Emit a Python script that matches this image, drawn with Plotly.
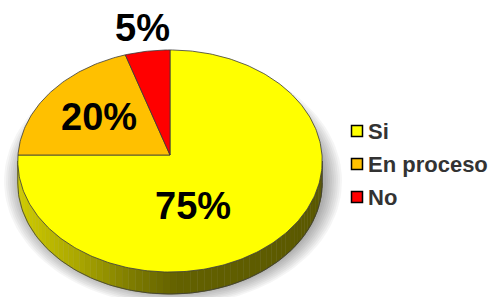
import numpy as np
import plotly.graph_objects as go

# ---- data ----
labels = ["Si", "En proceso", "No"]
values = [75, 20, 5]
pct_text = ["75%", "20%", "5%"]

# ---- style ----
colors = ["#FFFF00", "#FFC000", "#FF0000"]
edge = "#3a3a3a"
W, H = 495, 297
cx, cy = 170, 155          # pie apex (px)
rx, ry = 152, 110.7        # ellipse radii
persp = 0.054              # perspective factor
depth = 22                 # thickness of pie side
label_r = [0.47, 0.59, 1.24]      # radial factor for labels
label_shift = [26.9, 0.0, 0.0]    # angle tweak (deg) for labels

fig = go.Figure()

def pt(phi_deg, r=1.0, dy=0.0):
    p = np.radians(phi_deg)
    s = 1.0 / (1.0 + persp * r * np.cos(p))
    return cx + rx * r * np.sin(p) * s, cy - ry * r * np.cos(p) * s + dy

# soft shadow
th = np.linspace(0, 2 * np.pi, 140)
for k in range(9):
    fig.add_trace(go.Scatter(
        x=cx + 3 + (rx + 1 + 2 * k) * np.cos(th), y=cy + 26 + (ry + 1 + 1.6 * k) * np.sin(th),
        fill="toself", mode="lines", line=dict(width=0),
        fillcolor="rgba(0,0,0,0.04)", hoverinfo="skip", showlegend=False))

# pie side (front half), horizontal gradient
def side_color(t):
    stops = [(0.0, (208, 204, 0)), (0.2, (170, 167, 0)), (0.38, (125, 123, 0)),
             (0.52, (100, 98, 0)), (1.0, (90, 88, 0))]
    for (t0, c0), (t1, c1) in zip(stops[:-1], stops[1:]):
        if t <= t1:
            f = (t - t0) / (t1 - t0)
            c = [int(c0[i] + f * (c1[i] - c0[i])) for i in range(3)]
            return "rgb(%d,%d,%d)" % tuple(c)
    return "rgb(%d,%d,%d)" % stops[-1][1]

a0 = np.degrees(np.arccos(-persp))
N = 70
phis = np.linspace(a0, 360 - a0, N + 1)
for i in range(N):
    seg = np.linspace(phis[i], phis[i + 1], 4)
    xs_t, ys_t = pt(seg)
    xs_b, ys_b = pt(seg[::-1], dy=depth)
    xm = np.mean(xs_t)
    col = side_color((xm - (cx - rx)) / (2 * rx))
    fig.add_trace(go.Scatter(
        x=np.concatenate([xs_t, xs_b]), y=np.concatenate([ys_t, ys_b]),
        fill="toself", mode="lines", line=dict(width=0.6, color=col),
        fillcolor=col, hoverinfo="skip", showlegend=False))

# side outline
arc = np.linspace(a0, 360 - a0, 120)
bx, by = pt(arc, dy=depth)
fig.add_trace(go.Scatter(x=bx, y=by, mode="lines", line=dict(color=edge, width=0.8),
                         hoverinfo="skip", showlegend=False))
for a in (a0, 360 - a0):
    x0, y0 = pt(a)
    fig.add_trace(go.Scatter(x=[x0, x0], y=[y0, y0 + depth], mode="lines",
                             line=dict(color=edge, width=0.8), hoverinfo="skip", showlegend=False))

# top face wedges (clockwise from 12 o'clock)
total = float(sum(values))
start = 0.0
mids = []
for lab, v, c in zip(labels, values, colors):
    span = 360.0 * v / total
    seg = np.linspace(start, start + span, max(int(span), 2) + 1)
    xs, ys = pt(seg)
    fig.add_trace(go.Scatter(
        x=np.concatenate([[cx], xs, [cx]]), y=np.concatenate([[cy], ys, [cy]]),
        fill="toself", mode="lines", line=dict(color=edge, width=0.8),
        fillcolor=c, hoverinfo="skip", showlegend=False, name=lab))
    mids.append(start + span / 2)
    start += span

# percentage labels
for txt, m, r, s in zip(pct_text, mids, label_r, label_shift):
    x, y = pt(m + s, r)
    fig.add_annotation(x=x, y=y, text="<b>%s</b>" % txt, showarrow=False,
                       xanchor="center", yanchor="middle",
                       font=dict(family="Liberation Sans, Arial", size=38, color="black"))

# legend (custom)
leg_x, leg_y0, leg_dy = 357, 131, 33
leg_ys = [leg_y0 + i * leg_dy for i in range(len(labels))]
fig.add_trace(go.Scatter(
    x=[leg_x] * len(labels), y=leg_ys, mode="markers",
    marker=dict(symbol="square", size=11, color=colors, line=dict(color="black", width=1.5)),
    hoverinfo="skip", showlegend=False))
for lab, y in zip(labels, leg_ys):
    fig.add_annotation(x=leg_x + 9, y=y, text="<b>%s</b>" % lab, showarrow=False,
                       xanchor="left", yanchor="middle",
                       font=dict(family="Liberation Sans, Arial", size=22, color="#333333"))

fig.update_layout(
    width=W, height=H, margin=dict(l=0, r=0, t=0, b=0),
    paper_bgcolor="white", plot_bgcolor="white", showlegend=False,
    xaxis=dict(range=[0, W], visible=False, fixedrange=True),
    yaxis=dict(range=[H, 0], visible=False, fixedrange=True),
)
fig.write_html("out.html", config={"displayModeBar": False},
               post_script="document.body.style.margin='0';document.body.style.overflow='hidden';")
